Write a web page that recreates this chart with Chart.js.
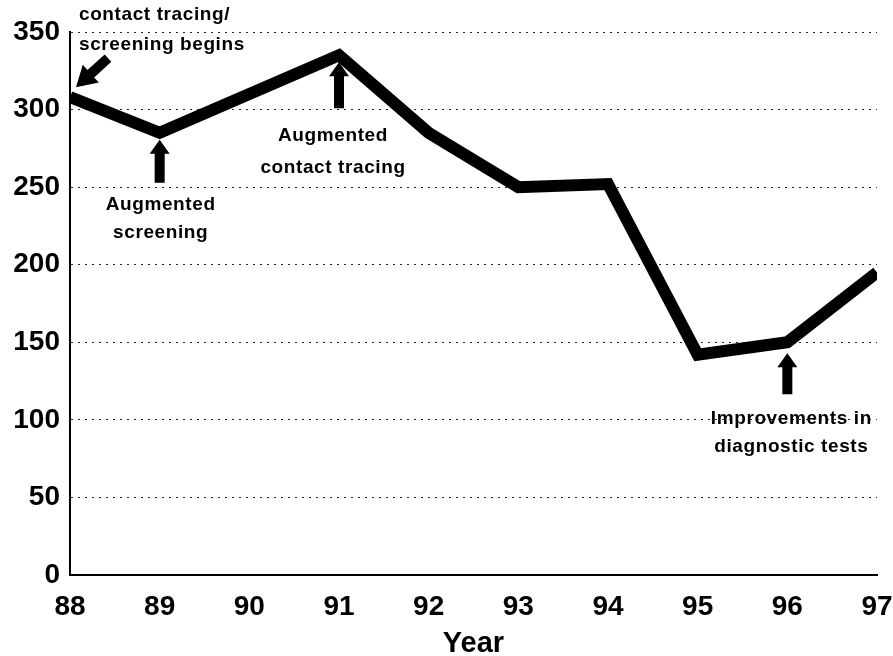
<!DOCTYPE html>
<html>
<head>
<meta charset="utf-8">
<script src="https://cdn.jsdelivr.net/npm/chart.js@4.4.1/dist/chart.umd.min.js"></script>
<style>
  html, body { margin: 0; padding: 0; background: #fff; }
  #wrap { width: 893px; height: 656px; }
</style>
</head>
<body>
<div id="wrap"><canvas id="chart"></canvas></div>
<script>
// values
const years  = [88, 89, 90, 91, 92, 93, 94, 95, 96, 97];
const cases  = [308, 285, 310, 335, 285, 250, 252, 142, 150, 195];
const yTicks = [0, 50, 100, 150, 200, 250, 300, 350];

const FONT = '"Liberation Sans", Arial, sans-serif';

// notes hung on points of the line (index into years)
const notes = [
  { at: 0, lines: ['contact tracing/', 'screening begins'], align: 'left', dx: 9, dy: [-82, -52],
    arrow: { tail: [38, -39], tip: [6, -10], head: 20, halfHead: 12, halfShaft: 5 } },
  { at: 1, lines: ['Augmented', 'screening'], align: 'center', dx: 1, dy: [72, 100],
    arrow: { tail: [0, 50], tip: [0, 7], head: 14, halfHead: 10, halfShaft: 5 } },
  { at: 3, lines: ['Augmented', 'contact tracing'], align: 'center', dx: -6, dy: [80, 112],
    arrow: { tail: [0, 53], tip: [0, 7], head: 14, halfHead: 10, halfShaft: 5 } },
  { at: 8, lines: ['Improvements in', 'diagnostic tests'], align: 'center', dx: 4, dy: [76, 104],
    arrow: { tail: [0, 52], tip: [0, 11], head: 14, halfHead: 10, halfShaft: 5 } },
];

function drawArrow(ctx, x1, y1, x2, y2, a) {
  const ang = Math.atan2(y2 - y1, x2 - x1);
  const len = Math.hypot(x2 - x1, y2 - y1);
  ctx.save();
  ctx.translate(x2, y2);
  ctx.rotate(ang);
  ctx.beginPath();
  ctx.moveTo(0, 0);
  ctx.lineTo(-a.head, -a.halfHead);
  ctx.lineTo(-a.head, -a.halfShaft);
  ctx.lineTo(-len, -a.halfShaft);
  ctx.lineTo(-len, a.halfShaft);
  ctx.lineTo(-a.head, a.halfShaft);
  ctx.lineTo(-a.head, a.halfHead);
  ctx.closePath();
  ctx.fillStyle = '#000';
  ctx.fill();
  ctx.restore();
}

const notesPlugin = {
  id: 'notes',
  afterDatasetsDraw(chart) {
    const { ctx, scales: { x, y } } = chart;
    ctx.save();
    ctx.font = 'bold 19px ' + FONT;
    ctx.letterSpacing = '0.6px';
    ctx.fillStyle = '#000';
    ctx.textBaseline = 'middle';
    notes.forEach(n => {
      const px = x.getPixelForValue(years[n.at]);
      const py = y.getPixelForValue(cases[n.at]);
      ctx.textAlign = n.align;
      n.lines.forEach((t, i) => ctx.fillText(t, px + n.dx, py + n.dy[i]));
      const a = n.arrow;
      drawArrow(ctx, px + a.tail[0], py + a.tail[1], px + a.tip[0], py + a.tip[1], a);
    });
    ctx.restore();
  }
};

new Chart(document.getElementById('chart'), {
  type: 'line',
  data: {
    datasets: [{
      data: years.map((yr, i) => ({ x: yr, y: cases[i] })),
      borderColor: '#000',
      borderWidth: 12,
      pointRadius: 0,
      tension: 0,
      fill: false,
    }],
  },
  options: {
    responsive: true,
    maintainAspectRatio: false,
    animation: false,
    layout: { padding: { top: 32, right: 16, left: 0, bottom: 0 } },
    plugins: { legend: { display: false }, tooltip: { enabled: false } },
    scales: {
      x: {
        type: 'linear',
        min: 88, max: 97,
        afterBuildTicks: s => { s.ticks = years.map(v => ({ value: v })); },
        afterFit: s => { s.height = 81; s.paddingRight = 0; },
        grid: { display: false, drawTicks: false },
        border: { display: true, color: '#000', width: 2 },
        ticks: { color: '#000', padding: 15, maxRotation: 0, autoSkip: false,
                 font: { family: FONT, size: 28, weight: 'bold' } },
        title: { display: true, text: 'Year', color: '#000', padding: { top: 2, bottom: -5 },
                 font: { family: FONT, size: 29, weight: 'bold' } },
      },
      y: {
        min: 0, max: 350,
        afterBuildTicks: s => { s.ticks = yTicks.map(v => ({ value: v })); },
        afterFit: s => { s.width = 70; },
        grid: {
          drawTicks: false,
          color: c => (c.tick && c.tick.value === 0 ? 'rgba(0,0,0,0)' : '#222'),
          lineWidth: 1,
        },
        // dash here only dots the grid rules; the axis line stays solid
        border: { display: true, color: '#000', width: 2, dash: [2, 5] },
        ticks: { color: '#000', padding: 10,
                 font: { family: FONT, size: 28, weight: 'bold' } },
      },
    },
  },
  plugins: [notesPlugin],
});
</script>
</body>
</html>
